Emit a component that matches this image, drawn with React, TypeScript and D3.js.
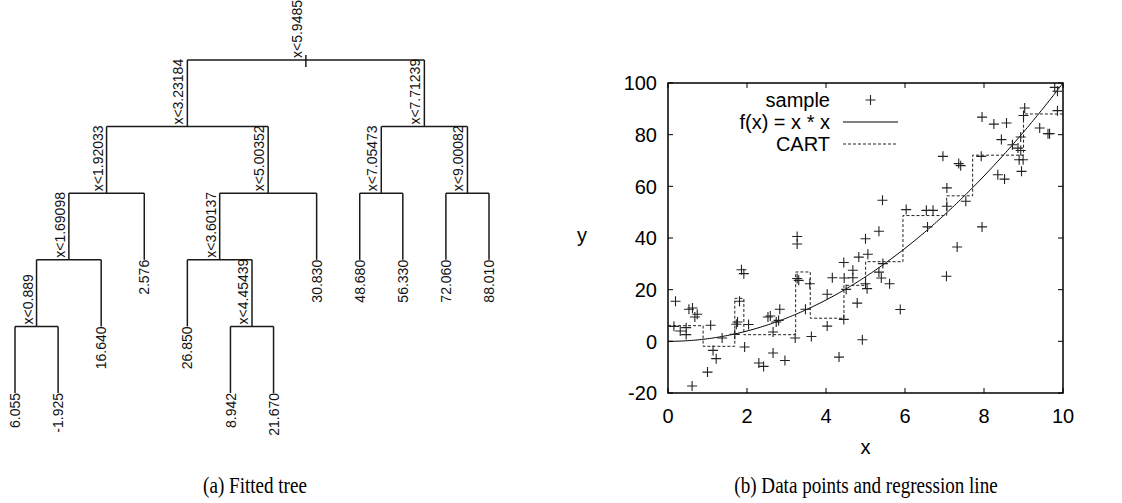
import React from "react";
import * as d3 from "d3";

// ---------------- data ----------------
type TNode = { id: string; parent: string | null; label: string };
const treeNodes: TNode[] = [
  { id: "n1", parent: null, label: "x<5.9485" },
  { id: "n2", parent: "n1", label: "x<3.23184" },
  { id: "n3", parent: "n1", label: "x<7.71239" },
  { id: "n4", parent: "n2", label: "x<1.92033" },
  { id: "n5", parent: "n2", label: "x<5.00352" },
  { id: "n6", parent: "n3", label: "x<7.05473" },
  { id: "n7", parent: "n3", label: "x<9.00082" },
  { id: "n8", parent: "n4", label: "x<1.69098" },
  { id: "l4", parent: "n4", label: "2.576" },
  { id: "n10", parent: "n5", label: "x<3.60137" },
  { id: "l8", parent: "n5", label: "30.830" },
  { id: "l9", parent: "n6", label: "48.680" },
  { id: "l10", parent: "n6", label: "56.330" },
  { id: "l11", parent: "n7", label: "72.060" },
  { id: "l12", parent: "n7", label: "88.010" },
  { id: "n16", parent: "n8", label: "x<0.889" },
  { id: "l3", parent: "n8", label: "16.640" },
  { id: "l5", parent: "n10", label: "26.850" },
  { id: "n21", parent: "n10", label: "x<4.45439" },
  { id: "l1", parent: "n16", label: "6.055" },
  { id: "l2", parent: "n16", label: "-1.925" },
  { id: "l6", parent: "n21", label: "8.942" },
  { id: "l7", parent: "n21", label: "21.670" },
];

const cartSplits = [0.889, 1.69098, 1.92033, 3.23184, 3.60137, 4.45439, 5.00352, 5.9485, 7.05473, 7.71239, 9.00082];
const cartValues = [6.055, -1.925, 16.64, 2.576, 26.85, 8.942, 21.67, 30.83, 48.68, 56.33, 72.06, 88.01];

const sampleX = [
  0.19, 0.15, 0.31, 0.46, 0.46, 0.53, 0.62, 0.68, 0.74, 0.61,
  1.08, 1.0, 1.14, 1.22, 1.37, 1.69, 1.73, 1.76, 1.81, 1.86,
  1.92, 2.04, 1.94, 2.3, 2.42, 2.53, 2.59, 2.66, 2.66, 2.83,
  2.8, 2.74, 2.96, 3.22, 3.27, 3.31, 3.27, 3.27, 3.48, 3.59,
  3.63, 4.03, 4.03, 4.16, 4.33, 4.45, 4.46, 4.45, 4.51, 4.68,
  4.68, 4.79, 4.83, 4.92, 5.0, 5.04, 5.06, 5.34, 5.4, 5.44,
  5.61, 5.88, 7.05, 7.32, 5.0, 5.34, 5.43, 6.03, 6.54, 6.71,
  6.57, 7.06, 7.06, 6.96, 7.36, 7.41, 7.54, 7.93, 7.95, 7.95,
  8.25, 8.57, 8.44, 8.35, 8.52, 8.72, 8.86, 8.93, 8.89, 8.99,
  8.95, 8.93, 9.03, 9.0, 9.41, 9.62, 9.66, 9.79, 9.86, 9.86,
];
const sampleY = [
  15.5, 5.8, 4.0, 5.3, 2.6, 12.4, 12.9, 9.4, 10.5, -17.3,
  6.2, -11.9, -3.5, -6.7, 1.3, 2.7, 6.6, 7.5, 15.5, 27.7,
  26.2, 6.5, -2.2, -8.4, -9.7, 9.4, 9.8, 3.6, -4.5, 12.4,
  8.1, 7.5, -7.4, 1.3, 24.3, 23.6, 40.6, 37.7, 12.4, 22.3,
  1.9, 18.2, 5.9, 24.6, -6.1, 30.5, 24.5, 8.5, 20.1, 27.5,
  24.6, 14.8, 32.6, 0.6, 22.3, 20.4, 33.7, 26.8, 24.5, 30.1,
  22.3, 12.3, 25.2, 36.5, 39.7, 42.6, 54.6, 51.0, 50.7, 50.7,
  44.3, 59.4, 52.3, 71.6, 68.8, 68.0, 54.2, 71.6, 44.3, 86.8,
  84.1, 84.5, 78.1, 64.5, 62.8, 76.1, 74.8, 73.9, 70.3, 70.3,
  65.8, 79.1, 90.3, 87.4, 82.6, 80.4, 80.4, 98.3, 96.8, 89.3,
];

const xTicks = [0, 2, 4, 6, 8, 10];
const yTicks = [-20, 0, 20, 40, 60, 80, 100];
const legendLabels = ["sample", "f(x) = x * x", "CART"];
const captions = ["(a) Fitted tree", "(b) Data points and regression line"];

const W = 1122;
const H = 503;
const SANS = "'Liberation Sans', Arial, Helvetica, sans-serif";
const SERIF = "'Liberation Serif', 'Times New Roman', serif";

function Tree() {
  const root = d3
    .stratify<TNode>()
    .id((d) => d.id)
    .parentId((d) => d.parent)(treeNodes);
  const leaves = root.leaves();
  const xLeaf = d3.scaleLinear().domain([0, leaves.length - 1]).range([15, 489]);
  const yDepth = d3.scaleLinear().domain([0, 5]).range([60, 393]);
  const pos = new Map<any, number>();
  leaves.forEach((l, i) => pos.set(l, xLeaf(i)));
  root.eachAfter((n) => {
    if (n.children) pos.set(n, d3.mean(n.children, (c) => pos.get(c)!)!);
  });
  const nodes = root.descendants();
  const stroke = "#1a1a1a";
  const fs = 14;
  return (
    <g>
      {nodes.map((n, i) => {
        const x = pos.get(n)!;
        const y = yDepth(n.depth);
        const els: any[] = [];
        if (n.children) {
          els.push(
            <line key={"h" + i} x1={pos.get(n.children[0])} x2={pos.get(n.children[n.children.length - 1])} y1={y} y2={y} stroke={stroke} strokeWidth={1.5} />
          );
        }
        if (n.parent) {
          els.push(<line key={"v" + i} x1={x} x2={x} y1={yDepth(n.parent.depth)} y2={y} stroke={stroke} strokeWidth={1.5} />);
        } else {
          els.push(<line key={"v" + i} x1={x} x2={x} y1={y - 5} y2={y + 7} stroke={stroke} strokeWidth={1.5} />);
        }
        if (n.children) {
          els.push(
            <text key={"t" + i} transform={`translate(${x - 4},${y - 2}) rotate(-90)`} fontSize={fs} fontFamily={SANS} fill="#111" textAnchor="start">
              {n.data.label}
            </text>
          );
        } else {
          els.push(
            <text key={"t" + i} transform={`translate(${x},${y}) rotate(-90)`} dy="0.36em" fontSize={fs} fontFamily={SANS} fill="#111" textAnchor="end">
              {n.data.label}
            </text>
          );
        }
        return <g key={i}>{els}</g>;
      })}
    </g>
  );
}

function Plot() {
  const L = 668, R = 1063, T = 83, B = 393;
  const xS = d3.scaleLinear().domain([0, 10]).range([L, R]);
  const yS = d3.scaleLinear().domain([-20, 100]).range([B, T]);
  const fs = 20;
  const tickLen = 5;
  const curvePts = d3.range(0, 10.0001, 0.05).map((x) => [x, x * x] as [number, number]);
  const line = d3.line<[number, number]>().x((d) => xS(d[0])).y((d) => yS(d[1]));
  const cartPts: [number, number][] = [[0, cartValues[0]]];
  cartSplits.forEach((s, i) => cartPts.push([s, cartValues[i + 1]]));
  cartPts.push([10, cartValues[cartValues.length - 1]]);
  const stepLine = d3.line<[number, number]>().x((d) => xS(d[0])).y((d) => yS(d[1])).curve(d3.curveStepAfter);
  const ps = 5;
  const legY = [100, 122, 144];
  const legTextX = 830;
  const legSymX1 = 843, legSymX2 = 898;
  return (
    <g>
      <defs>
        <clipPath id="plotclip">
          <rect x={L} y={T} width={R - L} height={B - T} />
        </clipPath>
      </defs>
      {xTicks.map((t) => (
        <g key={"xt" + t}>
          <line x1={xS(t)} x2={xS(t)} y1={B} y2={B - tickLen} stroke="#000" strokeWidth={1} />
          <line x1={xS(t)} x2={xS(t)} y1={T} y2={T + tickLen} stroke="#000" strokeWidth={1} />
          <text x={xS(t)} y={B + 30} textAnchor="middle" fontSize={fs} fontFamily={SANS} fill="#000">
            {t}
          </text>
        </g>
      ))}
      {yTicks.map((t) => (
        <g key={"yt" + t}>
          <line x1={L} x2={L + tickLen} y1={yS(t)} y2={yS(t)} stroke="#000" strokeWidth={1} />
          <line x1={R} x2={R - tickLen} y1={yS(t)} y2={yS(t)} stroke="#000" strokeWidth={1} />
          <text x={L - 11} y={yS(t)} dy="0.36em" textAnchor="end" fontSize={fs} fontFamily={SANS} fill="#000">
            {t}
          </text>
        </g>
      ))}
      <g clipPath="url(#plotclip)">
        <path d={line(curvePts)!} fill="none" stroke="#000" strokeWidth={1} />
        <path d={stepLine(cartPts)!} fill="none" stroke="#222" strokeWidth={1} strokeDasharray="3,2" />
        {sampleX.map((x, i) => (
          <path
            key={"p" + i}
            d={`M${xS(x) - ps},${yS(sampleY[i])}h${2 * ps}M${xS(x)},${yS(sampleY[i]) - ps}v${2 * ps}`}
            stroke="#222"
            strokeWidth={1.1}
            fill="none"
          />
        ))}
      </g>
      <rect x={L} y={T} width={R - L} height={B - T} fill="none" stroke="#000" strokeWidth={1.5} />
      {legendLabels.map((lab, i) => (
        <text key={"lg" + i} x={legTextX} y={legY[i]} dy="0.34em" textAnchor="end" fontSize={fs} fontFamily={SANS} fill="#000">
          {lab}
        </text>
      ))}
      <path
        d={`M${(legSymX1 + legSymX2) / 2 - ps},${legY[0]}h${2 * ps}M${(legSymX1 + legSymX2) / 2},${legY[0] - ps}v${2 * ps}`}
        stroke="#222"
        strokeWidth={1.1}
      />
      <line x1={legSymX1} x2={legSymX2} y1={legY[1]} y2={legY[1]} stroke="#000" strokeWidth={1} />
      <line x1={legSymX1} x2={legSymX2} y1={legY[2]} y2={legY[2]} stroke="#222" strokeWidth={1} strokeDasharray="3,2" />
      <text x={(L + R) / 2} y={454} textAnchor="middle" fontSize={fs} fontFamily={SANS} fill="#000">
        x
      </text>
      <text x={582} y={(T + B) / 2} dy="0.2em" textAnchor="middle" fontSize={fs} fontFamily={SANS} fill="#000">
        y
      </text>
    </g>
  );
}

export default function App() {
  return (
    <div style={{ position: "absolute", left: 0, top: 0 }}>
      <svg width={W} height={H} style={{ display: "block", background: "#fff" }}>
        <rect x={0} y={0} width={W} height={H} fill="#fff" />
        <Tree />
        <Plot />
        <text transform="translate(255,493) scale(0.83,1)" textAnchor="middle" fontSize={23} fontFamily={SERIF} fill="#000">
          {captions[0]}
        </text>
        <text transform="translate(866,493) scale(0.83,1)" textAnchor="middle" fontSize={23} fontFamily={SERIF} fill="#000">
          {captions[1]}
        </text>
      </svg>
    </div>
  );
}
